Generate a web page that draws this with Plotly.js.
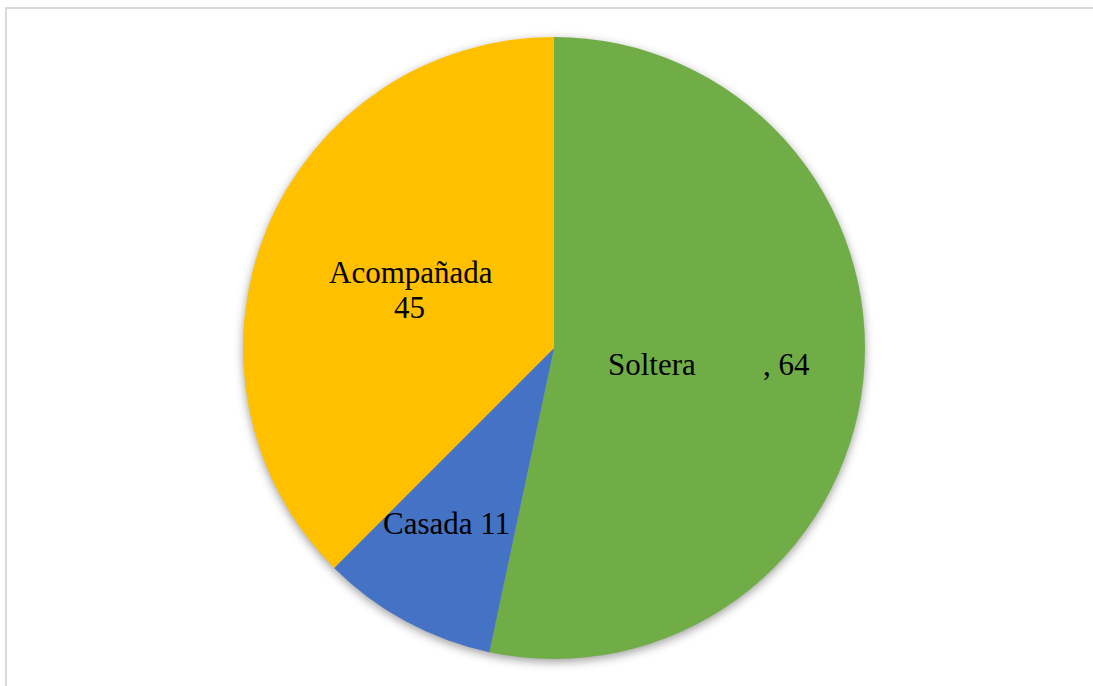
<!DOCTYPE html>
<html>
<head>
<meta charset="utf-8">
<script src="https://cdn.plot.ly/plotly-3.0.1.min.js"></script>
<style>
  html, body { margin: 0; padding: 0; background: #ffffff; }
  #frame { position: absolute; left: 5px; top: 7px; width: 1088px; height: 679px;
           border-left: 2px solid #d9d9d9; border-top: 2px solid #d9d9d9; box-sizing: border-box; }
  #chart { position: absolute; left: 0; top: 0; width: 1093px; height: 686px; }
  #chart .pielayer { filter: drop-shadow(0px 3px 5px rgba(0,0,0,0.38)); }
</style>
</head>
<body>
<div id="frame"></div>
<div id="chart"></div>
<script>
const categories = ["Soltera", "Casada", "Acompañada"];
const counts = [64, 11, 45];
const sliceColors = ["#70AD47", "#4472C4", "#FFC000"];

const W = 1093, H = 686;
const px = (x) => x / W;
const py = (y) => 1 - y / H;
const labelFont = { family: "Liberation Serif, 'Times New Roman', serif", size: 31, color: "#000000" };

const trace = {
  type: "pie",
  labels: categories,
  values: counts,
  marker: { colors: sliceColors, line: { width: 0 } },
  sort: false,
  direction: "clockwise",
  rotation: 0,
  textinfo: "none",
  hoverinfo: "label+value",
  domain: { x: [px(243), px(865)], y: [py(659), py(37)] }
};

const annotations = [
  { text: categories[0], x: px(606), y: py(364), xanchor: "left", yanchor: "middle" },
  { text: ", " + counts[0], x: px(761), y: py(364), xanchor: "left", yanchor: "middle" },
  { text: categories[1] + " " + counts[1], x: px(381), y: py(523), xanchor: "left", yanchor: "middle" },
  { text: categories[2], x: px(411), y: py(272), xanchor: "center", yanchor: "middle" },
  { text: String(counts[2]), x: px(409), y: py(307), xanchor: "center", yanchor: "middle" }
].map(a => Object.assign({ xref: "paper", yref: "paper", showarrow: false, font: labelFont }, a));

const layout = {
  width: W, height: H,
  margin: { l: 0, r: 0, t: 0, b: 0 },
  paper_bgcolor: "rgba(0,0,0,0)",
  plot_bgcolor: "rgba(0,0,0,0)",
  showlegend: false,
  annotations: annotations
};

Plotly.newPlot("chart", [trace], layout, { displayModeBar: false, staticPlot: true });
</script>
</body>
</html>
